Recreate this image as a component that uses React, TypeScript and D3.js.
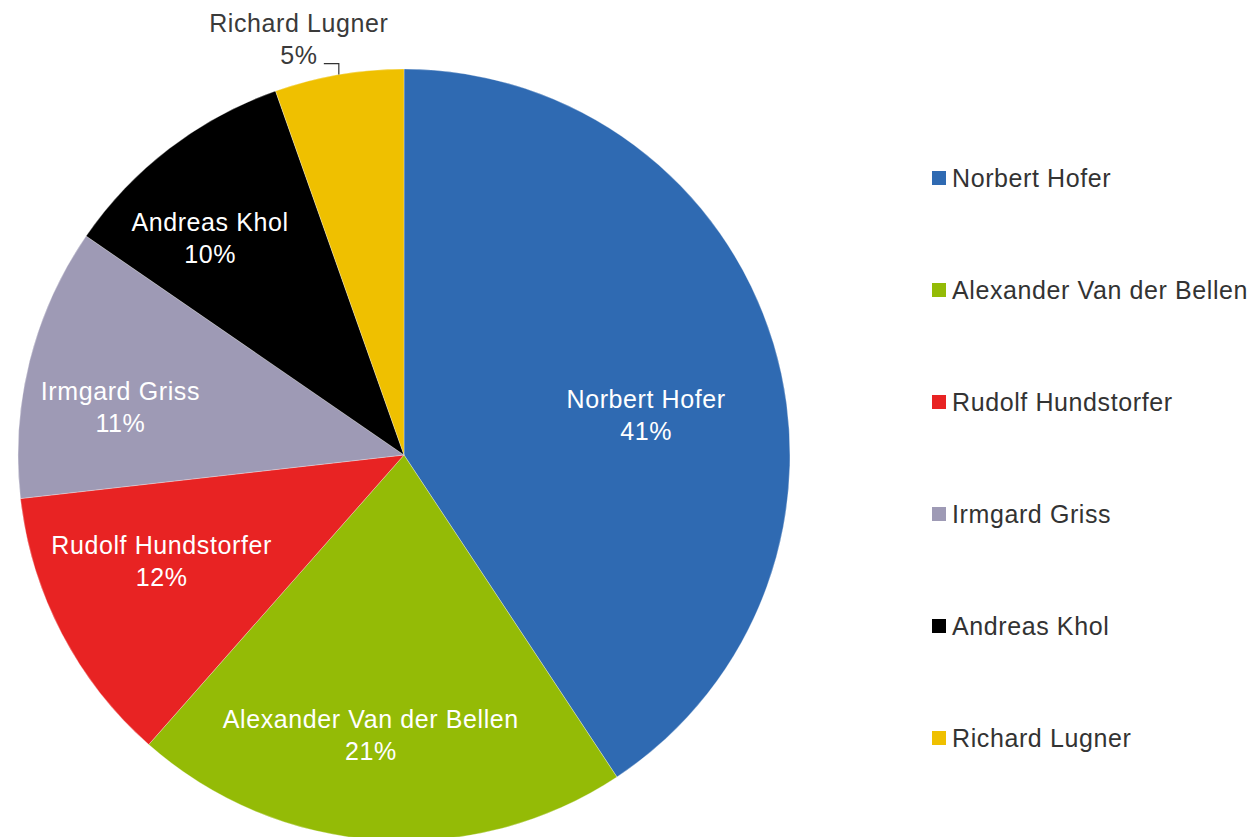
import { useEffect, useRef } from "react";
import * as d3 from "d3";

const candidates = [
  "Norbert Hofer",
  "Alexander Van der Bellen",
  "Rudolf Hundstorfer",
  "Irmgard Griss",
  "Andreas Khol",
  "Richard Lugner",
];
const shares = [40.7, 20.8, 11.7, 11.4, 10.0, 5.4];
const sliceColors = ["#2f6ab2", "#94bb06", "#e82323", "#9e9ab5", "#000000", "#efc000"];

const WIDTH = 1254;
const HEIGHT = 837;

export default function App() {
  const svgRef = useRef<SVGSVGElement>(null);

  useEffect(() => {
    if (!svgRef.current) return;
    const svg = d3.select(svgRef.current);
    svg.selectAll("*").remove();

    const cx = 404;
    const cy = 455;
    const r = 386;
    const font = "'Liberation Sans', Arial, Helvetica, sans-serif";
    const fontSize = 25;
    const spacing = "0.6px";

    const data = candidates.map((name, i) => ({ name, value: shares[i], color: sliceColors[i] }));
    const pie = d3
      .pie<(typeof data)[number]>()
      .sort(null)
      .value((d) => d.value);
    const arcs = pie(data);

    const arc = d3.arc<d3.PieArcDatum<(typeof data)[number]>>().innerRadius(0).outerRadius(r);
    const labelArc = d3
      .arc<d3.PieArcDatum<(typeof data)[number]>>()
      .innerRadius(r * 0.72)
      .outerRadius(r * 0.72);

    const g = svg.append("g").attr("transform", `translate(${cx},${cy})`);

    g.selectAll("path")
      .data(arcs)
      .enter()
      .append("path")
      .attr("d", arc)
      .attr("fill", (d) => d.data.color)
      .attr("stroke", "#ffffff")
      .attr("stroke-width", 0.3);

    // small nudges so labels sit where the original put them
    const nudge: [number, number][] = [
      [-24, 40],
      [-14, 3],
      [4, -23],
      [-14, 19],
      [-25, 4],
    ];

    arcs.forEach((a, i) => {
      const pct = `${Math.round(a.data.value)}%`;
      if (i < nudge.length) {
        const [x, y] = labelArc.centroid(a);
        const t = g
          .append("text")
          .attr("text-anchor", "middle")
          .attr("fill", "#ffffff")
          .style("font-family", font)
          .style("font-size", `${fontSize}px`)
          .style("letter-spacing", spacing);
        t.append("tspan")
          .attr("x", x + nudge[i][0])
          .attr("y", y + nudge[i][1] - 16)
          .attr("dominant-baseline", "central")
          .text(a.data.name);
        t.append("tspan")
          .attr("x", x + nudge[i][0])
          .attr("y", y + nudge[i][1] + 16)
          .attr("dominant-baseline", "central")
          .text(pct);
      } else {
        // outside label with leader line
        const mid = (a.startAngle + a.endAngle) / 2;
        const ex = Math.sin(mid) * r;
        const ey = -Math.cos(mid) * r;
        g.append("path")
          .attr("d", `M${ex},${ey}V${ey - 11}H${ex - 15}`)
          .attr("fill", "none")
          .attr("stroke", "#333333")
          .attr("stroke-width", 1.2);
        const tx = ex - 40;
        const t = g
          .append("text")
          .attr("text-anchor", "middle")
          .attr("fill", "#3a3a3a")
          .style("font-family", font)
          .style("font-size", `${fontSize}px`)
          .style("letter-spacing", spacing);
        t.append("tspan")
          .attr("x", tx)
          .attr("y", ey - 52)
          .attr("dominant-baseline", "central")
          .text(a.data.name);
        t.append("tspan")
          .attr("x", tx)
          .attr("y", ey - 20)
          .attr("dominant-baseline", "central")
          .text(pct);
      }
    });

    // Legend
    const legend = svg.append("g").attr("transform", "translate(932,178)");
    const item = legend
      .selectAll("g")
      .data(data)
      .enter()
      .append("g")
      .attr("transform", (_d, i) => `translate(0,${i * 112})`);
    item
      .append("rect")
      .attr("x", 0)
      .attr("y", -7)
      .attr("width", 14)
      .attr("height", 14)
      .attr("fill", (d) => d.color);
    item
      .append("text")
      .attr("x", 20)
      .attr("y", 0)
      .attr("dominant-baseline", "central")
      .attr("fill", "#333333")
      .style("font-family", font)
      .style("font-size", `${fontSize}px`)
      .style("letter-spacing", spacing)
      .text((d) => d.name);
  }, []);

  return (
    <svg
      ref={svgRef}
      width={WIDTH}
      height={HEIGHT}
      style={{ position: "absolute", left: 0, top: 0, background: "#ffffff" }}
    />
  );
}
